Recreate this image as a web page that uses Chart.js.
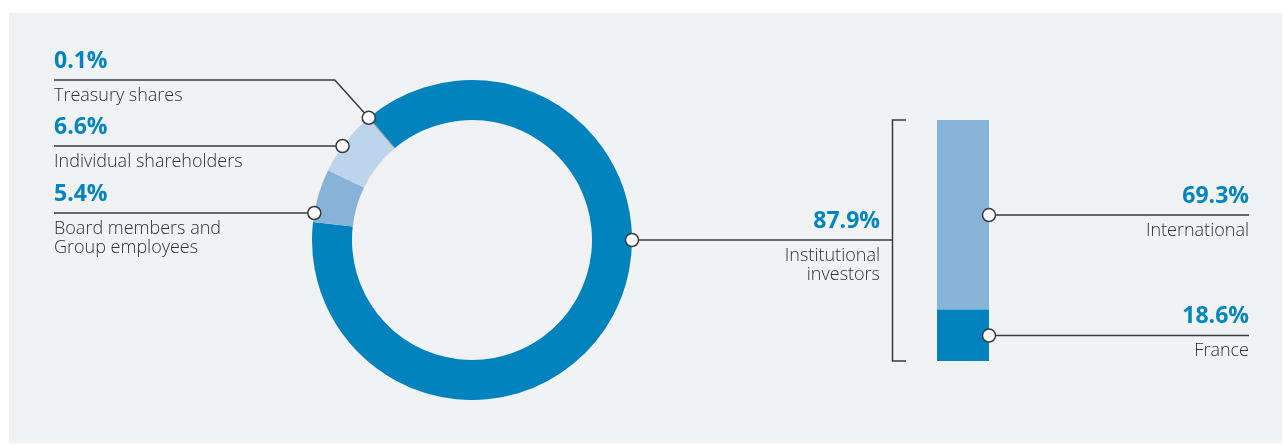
<!DOCTYPE html>
<html>
<head>
<meta charset="utf-8">
<script src="https://cdn.jsdelivr.net/npm/chart.js@4.4.0/dist/chart.umd.min.js"></script>
<style>
  html, body { margin: 0; padding: 0; width: 1283px; height: 445px; overflow: hidden; background: #fff; font-family: "Open Sans", "Noto Sans", sans-serif; }
  #panel { position: absolute; left: 9px; top: 13px; width: 1273px; height: 430px; background: #f1f2f4; }
  #bar { position: absolute; left: 937px; top: 120px; z-index: 1; }
  #donut { position: absolute; left: 0; top: 0; z-index: 2; }
  #labels { position: absolute; left: 0; top: 0; width: 1283px; height: 445px; z-index: 3; }
  .pct { position: absolute; font-weight: 700; font-size: 23px; line-height: 25px; color: #0085bf; white-space: nowrap; }
  .lbl { position: absolute; font-size: 18px; line-height: 19.5px; font-weight: 300; color: #303030; white-space: nowrap; }
  .right { text-align: right; }
</style>
</head>
<body>
<div id="panel"></div>
<canvas id="bar" width="52" height="241"></canvas>
<canvas id="donut" width="1283" height="445"></canvas>
<div id="labels"></div>
<script>
// shareholding structure (%)
const ownerLabels = ['Institutional investors', 'Board members and Group employees', 'Individual shareholders', 'Treasury shares'];
const ownerLines = [['Institutional', 'investors'], ['Board members and', 'Group employees'], ['Individual shareholders'], ['Treasury shares']];
const ownerShares = [87.9, 5.4, 6.6, 0.1];
const ownerColors = ['#0083bd', '#88b3d9', '#bdd5eb', '#8c8c8c'];

// split of institutional investors (%)
const splitLabels = ['France', 'International'];
const splitShares = [18.6, 69.3];
const splitColors = ['#0083bd', '#88b3d9'];

const lineColor = '#3a3a3a';
const BAR_LEFT = 937, BAR_TOP = 120;

const barChart = new Chart(document.getElementById('bar'), {
  type: 'bar',
  data: {
    labels: ['Institutional investors'],
    datasets: splitLabels.map((name, i) => ({
      label: name,
      data: [splitShares[i]],
      backgroundColor: splitColors[i],
      borderWidth: 0,
      barPercentage: 1,
      categoryPercentage: 1
    }))
  },
  options: {
    responsive: false,
    animation: false,
    layout: { padding: 0 },
    plugins: { legend: { display: false }, tooltip: { enabled: false } },
    scales: {
      x: { stacked: true, display: false },
      y: { stacked: true, display: false, min: 0, max: splitShares.reduce((a, b) => a + b, 0) }
    }
  }
});

function dot(ctx, x, y) {
  ctx.beginPath();
  ctx.arc(x, y, 6.5, 0, Math.PI * 2);
  ctx.fillStyle = '#fff';
  ctx.fill();
  ctx.lineWidth = 1.5;
  ctx.strokeStyle = lineColor;
  ctx.stroke();
}

const anchors = {};

const leaders = {
  id: 'leaders',
  afterDraw(chart) {
    const ctx = chart.ctx;
    const arcs = chart.getDatasetMeta(0).data;
    const cx = arcs[0].x, cy = arcs[0].y, R = arcs[0].outerRadius;
    ctx.save();
    ctx.strokeStyle = lineColor;
    ctx.lineWidth = 1.5;

    // left side lines
    const lineX = 54;
    const leftY = { 3: 80, 2: 146, 1: 213 };
    const dots = [];
    // treasury: elbow to middle of its slice
    const t = arcs[3];
    const tm = (t.startAngle + t.endAngle) / 2;
    const tx = cx + Math.cos(tm) * R, ty = cy + Math.sin(tm) * R;
    ctx.beginPath();
    ctx.moveTo(lineX, leftY[3]);
    ctx.lineTo(tx - (ty - leftY[3]) * 0.9, leftY[3]);
    ctx.lineTo(tx, ty);
    ctx.stroke();
    dots.push([tx, ty]);
    anchors[3] = { x: lineX, y: leftY[3] };
    [2, 1].forEach(i => {
      const y = leftY[i];
      const x = cx - Math.sqrt(R * R - (y - cy) * (y - cy));
      ctx.beginPath();
      ctx.moveTo(lineX, y);
      ctx.lineTo(x, y);
      ctx.stroke();
      dots.push([x, y]);
      anchors[i] = { x: lineX, y: y };
    });

    // institutional: right edge of ring to bracket
    const bArea = barChart.chartArea;
    const bTop = BAR_TOP + bArea.top, bBot = BAR_TOP + bArea.bottom;
    const brX = 892.5;
    ctx.beginPath();
    ctx.moveTo(cx + R, cy);
    ctx.lineTo(brX, cy);
    ctx.stroke();
    ctx.beginPath();
    ctx.moveTo(906, bTop);
    ctx.lineTo(brX, bTop);
    ctx.lineTo(brX, bBot);
    ctx.lineTo(906, bBot);
    ctx.stroke();
    dots.push([cx + R, cy]);
    anchors[0] = { x: 880, y: cy };

    // bar segments
    anchors.split = [];
    splitLabels.forEach((name, i) => {
      const el = barChart.getDatasetMeta(i).data[0];
      const x = BAR_LEFT + el.x + el.width / 2;
      const y = BAR_TOP + (el.y + el.base) / 2;
      ctx.beginPath();
      ctx.moveTo(x, y);
      ctx.lineTo(1249, y);
      ctx.stroke();
      dots.push([x, y]);
      anchors.split[i] = { x: 1249, y: y };
    });

    dots.forEach(d => dot(ctx, d[0], d[1]));
    ctx.restore();
  }
};

const donut = new Chart(document.getElementById('donut'), {
  type: 'doughnut',
  data: {
    labels: ownerLabels,
    datasets: [{
      data: ownerShares,
      backgroundColor: ownerColors,
      borderWidth: 0,
      hoverOffset: 0
    }]
  },
  options: {
    responsive: false,
    animation: false,
    cutout: '75%',
    rotation: -40,
    layout: { padding: { left: 312, top: 80, right: 651, bottom: 45 } },
    plugins: { legend: { display: false }, tooltip: { enabled: false } }
  },
  plugins: [leaders]
});

// text labels
const box = document.getElementById('labels');
function addText(cls, text, x, baseline, right) {
  const d = document.createElement('div');
  d.className = cls + (right ? ' right' : '');
  d.innerHTML = text;
  const off = cls === 'pct' ? 21.4 : 16.7;
  d.style.top = (baseline - off) + 'px';
  if (right) d.style.right = (1283 - x) + 'px';
  else d.style.left = x + 'px';
  box.appendChild(d);
}
[3, 2, 1, 0].forEach(i => {
  const a = anchors[i];
  const right = i === 0;
  addText('pct', ownerShares[i].toFixed(1) + '%', a.x, a.y - 12, right);
  addText('lbl', ownerLines[i].join('<br>'), a.x, a.y + 21.5, right);
});
splitLabels.forEach((name, i) => {
  const a = anchors.split[i];
  addText('pct', splitShares[i].toFixed(1) + '%', a.x, a.y - 12, true);
  addText('lbl', name, a.x, a.y + 21.5, true);
});
</script>
</body>
</html>
